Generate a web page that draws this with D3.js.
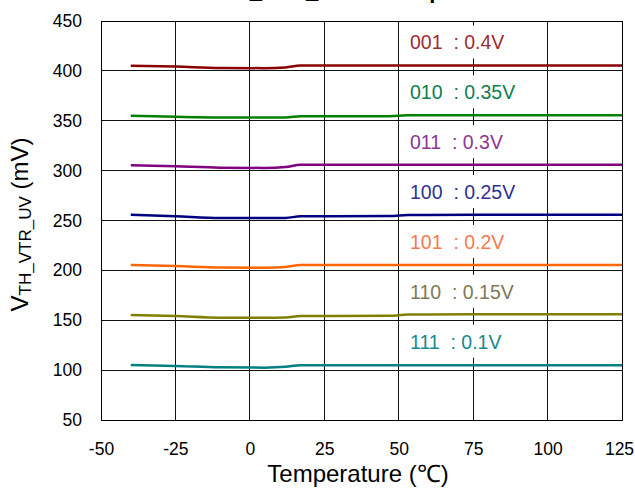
<!DOCTYPE html>
<html>
<head>
<meta charset="utf-8">
<script src="https://cdn.jsdelivr.net/npm/d3@7"></script>
<style>
  html, body { margin: 0; padding: 0; background: #fff; }
  svg { display: block; font-family: "Liberation Sans", Arial, sans-serif; }
</style>
</head>
<body>
<svg id="chart" width="635" height="496"></svg>
<script>
// ---- data ----
const temps = [-40, -25, -10, 5, 12, 17, 25, 47, 53, 75, 100, 125];
const codes = ["001", "010", "011", "100", "101", "110", "111"];
const nominal = [400, 350, 300, 250, 200, 150, 100];
const labelTexts = ["001  : 0.4V", "010  : 0.35V", "011  : 0.3V", "100  : 0.25V", "101  : 0.2V", "110  : 0.15V", "111  : 0.1V"];
const v001 = [405.2, 404.3, 403.0, 402.7, 403.5, 405.4, 405.5, 405.5, 405.5, 405.5, 405.5, 405.5];
const v010 = [355.0, 354.0, 353.3, 353.2, 353.3, 354.5, 354.6, 354.6, 355.4, 355.5, 355.5, 355.5];
const v011 = [305.5, 304.3, 303.0, 302.7, 303.6, 305.8, 306.0, 306.0, 306.0, 306.0, 306.0, 306.0];
const v100 = [255.7, 254.2, 252.5, 252.4, 252.6, 254.2, 254.3, 254.4, 255.5, 255.7, 255.7, 255.7];
const v101 = [205.3, 204.3, 203.0, 202.6, 203.4, 205.3, 205.4, 205.4, 205.4, 205.4, 205.4, 205.4];
const v110 = [155.3, 154.2, 152.6, 152.5, 152.7, 154.2, 154.3, 154.4, 155.7, 155.9, 155.9, 155.9];
const v111 = [105.2, 104.2, 102.9, 102.5, 103.3, 104.9, 105.0, 105.0, 105.0, 105.0, 105.0, 105.0];
const seriesValues = [v001, v010, v011, v100, v101, v110, v111];
const lineColors = ["#8b0000", "#008000", "#800080", "#000080", "#ff6600", "#808000", "#008080"];
const labelColors = ["#9b2d30", "#0a8050", "#8e3597", "#2e3192", "#f47a50", "#7d7a55", "#168a8c"];
const xTicks = [-50, -25, 0, 25, 50, 75, 100, 125];
const yTicks = [50, 100, 150, 200, 250, 300, 350, 400, 450];

// ---- layout ----
const svg = d3.select("#chart");
const L = 101, R = 622, T = 21, B = 420;
const x = d3.scaleLinear().domain([-50, 125]).range([L, R]);
const y = d3.scaleLinear().domain([50, 450]).range([B, T]);
const fmt = d => String(d);

// title (mostly above the visible area, as in the reference)
svg.append("text")
  .attr("x", (L + R) / 2).attr("y", -2.5)
  .attr("text-anchor", "middle")
  .attr("font-size", 22).attr("font-weight", "bold")
  .text("VTH_VTR_UV vs Temperature");

// grid
const grid = svg.append("g").attr("stroke", "#111").attr("stroke-width", 1).attr("shape-rendering", "crispEdges");
grid.selectAll(".gx").data(xTicks).join("line")
  .attr("x1", d => x(d)).attr("x2", d => x(d)).attr("y1", T).attr("y2", B);
grid.selectAll(".gy").data(yTicks).join("line")
  .attr("x1", L).attr("x2", R).attr("y1", d => y(d)).attr("y2", d => y(d));

// axes
const yAxis = svg.append("g").attr("transform", `translate(${L},0)`)
  .call(d3.axisLeft(y).tickValues(yTicks).tickFormat(fmt).tickSize(0).tickPadding(19));
yAxis.select(".domain").remove();
yAxis.selectAll("text").attr("font-size", 17.5).attr("fill", "#000")
  .attr("font-family", "Liberation Sans, Arial, sans-serif");

const xAxis = svg.append("g").attr("transform", `translate(0,${B})`)
  .call(d3.axisBottom(x).tickValues(xTicks).tickFormat(fmt).tickSize(0).tickPadding(23));
xAxis.select(".domain").remove();
xAxis.selectAll("text").attr("font-size", 17.5).attr("fill", "#000")
  .attr("font-family", "Liberation Sans, Arial, sans-serif")
  .attr("dx", d => d === 125 ? -3 : 0);

// frame
svg.append("rect").attr("x", L).attr("y", T).attr("width", R - L).attr("height", B - T)
  .attr("fill", "none").attr("stroke", "#000").attr("stroke-width", 1).attr("shape-rendering", "crispEdges");

// label boxes + labels
const lbl = svg.append("g");
codes.forEach((c, i) => {
  const by = y(nominal[i] + 21.5);
  lbl.append("rect")
    .attr("x", x(52)).attr("y", by - 24)
    .attr("width", x(94) - x(52)).attr("height", 33)
    .attr("fill", "#fff");
  lbl.append("text")
    .attr("x", x(53.8)).attr("y", by)
    .attr("font-size", 19.5)
    .attr("fill", labelColors[i])
    .style("white-space", "pre")
    .text(labelTexts[i]);
});

// series lines
const line = d3.line().x((d, j) => x(temps[j])).y(d => y(d)).curve(d3.curveMonotoneX);
svg.append("g").selectAll("path").data(seriesValues).join("path")
  .attr("d", d => line(d))
  .attr("fill", "none")
  .attr("stroke", (d, i) => lineColors[i])
  .attr("stroke-width", 2.5)
  .attr("stroke-linejoin", "round");

// axis titles
const yt = svg.append("text")
  .attr("transform", `translate(28,${(T + B) / 2 + 4}) rotate(-90)`)
  .attr("text-anchor", "middle")
  .attr("font-size", 24).attr("fill", "#000");
yt.append("tspan").text("V");
yt.append("tspan").attr("font-size", 17).attr("dy", 3).text("TH_VTR_UV");
yt.append("tspan").attr("dy", -3).text(" (mV)");

svg.append("text")
  .attr("x", 358).attr("y", 482)
  .attr("text-anchor", "middle")
  .attr("font-size", 24).attr("fill", "#000")
  .text("Temperature (℃)");
</script>
</body>
</html>
